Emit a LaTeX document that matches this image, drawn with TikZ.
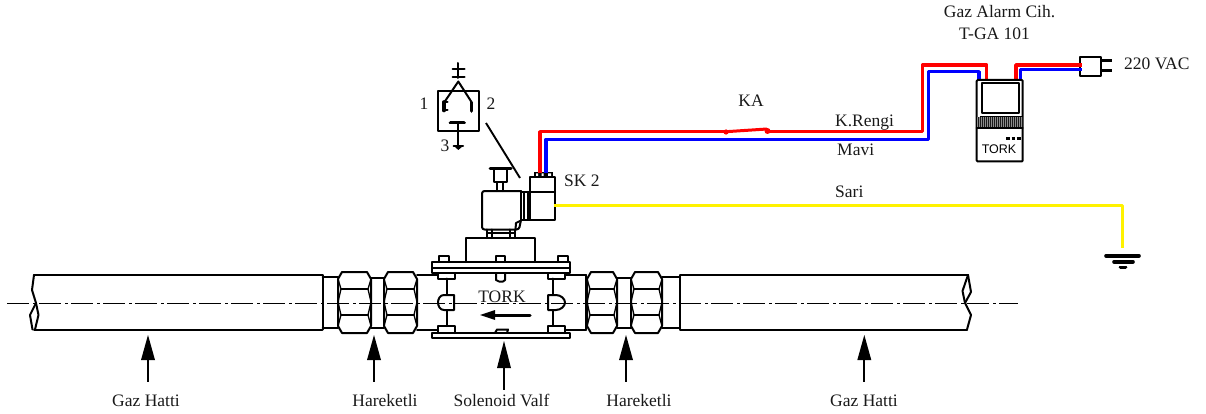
\documentclass[tikz,border=0pt]{standalone}
\usepackage{fontspec}
\setmainfont{Liberation Serif}
\newfontfamily\tacho{Liberation Sans}
\usetikzlibrary{calc}
\tikzset{
  ln/.style={draw=black,line width=2pt,line join=round,line cap=round},
  thin ln/.style={draw=black,line width=1.3pt,line join=round},
  thick ln/.style={draw=black,line width=3.6pt,line cap=round},
  center line/.style={draw=black,line width=1.8pt,dash pattern=on 22pt off 4pt on 2.5pt off 3.5pt},
  redw/.style={draw=red,line width=3.5pt,line join=round},
  bluew/.style={draw=blue,line width=3.5pt,line join=round},
  yelw/.style={draw=yellow,line width=3.2pt,line join=round},
  lab/.style={inner sep=0pt,anchor=base,font=\fontsize{17.5}{20}\selectfont,text=black!90},
  labl/.style={inner sep=0pt,anchor=base west,font=\fontsize{17.5}{20}\selectfont,text=black!90},
  stem/.style={draw=black,line width=1.9pt},
  head/.style={fill=black,draw=none}
}
\newcommand{\hexnut}[2]{%
  \draw[ln] ($(#1,272)+(4,0)$) -- ($(#2,272)+(-4,0)$) -- (#2,279) -- (#2,326) -- ($(#2,333)+(-4,0)$) -- ($(#1,333)+(4,0)$) -- (#1,326) -- (#1,279) -- cycle;
  \draw[ln] ($(#1,289)+(3,0)$) -- ($(#2,289)+(-3,0)$);
  \draw[ln] ($(#1,315)+(3,0)$) -- ($(#2,315)+(-3,0)$);
  \draw[thin ln] (#2,279) -- ($(#2,289)+(-3,0)$) -- (#2,302) -- ($(#2,315)+(-3,0)$) -- (#2,326);
  \draw[thin ln] (#1,279) -- ($(#1,289)+(3,0)$) -- (#1,302) -- ($(#1,315)+(3,0)$) -- (#1,326);
}
\newcommand{\pointarrow}[4]{% x, tip, base, foot
  \fill[head] (#1,#2) -- (#1+7,#3) -- (#1-7,#3) -- cycle;
  \draw[stem] (#1,#3) -- (#1,#4);
}
\begin{document}
\begin{tikzpicture}[x=1pt,y=-1pt]
\useasboundingbox (0,0) rectangle (1206,414);
% pipes
\draw[ln] (34,275) -- (322.5,275) (34,329.5) -- (322.5,329.5) (322.5,275) -- (322.5,329.5);
\draw[ln] (34,275) -- (32,290) -- (36,303) -- (30,315) -- (32.5,329.5);
\draw[ln] (36,303) -- (38.5,315) -- (35,329.5);
\draw[ln] (680,275) -- (968,275) (680,329.5) -- (967,329.5) (680,275) -- (680,329.5);
\draw[ln] (968,275) -- (971,292) -- (965,303) -- (971,315) -- (967,329.5);
\draw[ln] (968,275) -- (962.5,291) -- (965,303);
% couplings
\draw[ln] (322.5,277) -- (338,277) (322.5,327.5) -- (338,327.5);
\hexnut{338}{371}
\draw[ln] (371,278) -- (384,278) (371,327.5) -- (384,327.5);
\hexnut{384}{417}
\draw[ln] (417,275) -- (438,275) (417,329.5) -- (438,329.5);
\draw[ln] (565,275) -- (586,275) (565,329.5) -- (586,329.5);
\draw[ln] (586,275) -- (586,329.5);
\hexnut{587}{617}
\draw[ln] (617,278) -- (631,278) (617,327.5) -- (631,327.5);
\hexnut{631}{662}
\draw[ln] (662,277) -- (680,277) (662,327.5) -- (680,327.5);
% valve flanges and bolts
\draw[ln] (432,262) rectangle (570,273);
\draw[ln] (432,267.5) -- (570,267.5);
\draw[ln] (438.5,262) -- (438.5,255.5) -- (448.5,255.5) -- (448.5,262);
\draw[ln] (496,262) -- (496,255.5) -- (504.5,255.5) -- (504.5,262);
\draw[ln] (558,262) -- (558,255.5) -- (568,255.5) -- (568,262);
\draw[ln] (438,273) -- (438,278.5) -- (454.5,278.5) -- (454.5,273);
\draw[ln] (496,273) -- (496,280) -- (499,281.5) -- (503,281.5) -- (505,280) -- (505,273);
\draw[ln] (548,273) -- (548,278.5) -- (565,278.5) -- (565,273);
\draw[ln] (447,278.5) -- (447,295) (447,310) -- (447,326);
\draw[ln] (553,278.5) -- (553,295) (553,310) -- (553,326);
\draw[ln] (454,295) -- (444,295) .. controls (440,295) and (438,299) .. (438,302.5) .. controls (438,306) and (440,310) .. (444,310) -- (454,310) -- cycle;
\draw[ln] (548,295) -- (556,295) .. controls (561,295) and (565,299) .. (565,302.5) .. controls (565,306) and (561,310) .. (556,310) -- (548,310) -- cycle;
\draw[ln] (438,333) -- (438,326) -- (454.5,326) -- (454.5,333);
\draw[ln] (548,333) -- (548,326) -- (565,326) -- (565,333);
\draw[ln] (495,333) -- (497,329.5) -- (508,329.5) -- (507,333);
\draw[ln] (432,333) rectangle (570,338);
% solenoid
\draw[ln] (466,262) -- (466,238) -- (535,238) -- (535,262);
\draw[ln] (487,238) -- (487,229.5) (492,229.5) -- (492,238) (510,229.5) -- (510,238) (515,238) -- (515,229.5);
\draw[ln] (487,233) -- (515,233);
\draw[ln,rounded corners=2.5pt] (521,191) -- (482,191) -- (482,229.5) -- (519,229.5) -- (521,220);
\draw[ln] (521,191) -- (521,220);
\draw[ln] (515.5,229.5) -- (516,223) -- (520,221);
\draw[ln] (497,191) -- (497,182) (503,191) -- (503,182);
\draw[ln] (494,170) -- (494,182) -- (507,182) -- (507,170);
\draw[ln,line width=3pt] (490,168.5) -- (511,168.5);
\draw[ln] (521,192) -- (530,192) (521,219.5) -- (530,219.5);
\draw[ln] (523.5,192) -- (523.5,219.5) (527.7,192) -- (527.7,219.5);
\draw[ln] (530,177) rectangle (555,219.5);
\draw[ln] (530,191.5) -- (555,191.5);
\fill[black] (534,172) rectangle (553,177);
\fill[white] (536,173.5) rectangle (538,176) (541.5,173.5) rectangle (543.5,176) (548,173.5) rectangle (551,176);
% contact symbol
\draw[ln] (437.5,91) rectangle (479,131.5);
\draw[ln] (458.3,63) -- (458.3,78);
\draw[ln] (452.5,69) -- (464.5,69);
\draw[ln] (452.5,77) -- (464.5,77);
\draw[ln] (444.5,102) -- (458.3,81.5) -- (471.5,102);
\draw[thick ln] (444,102) -- (444,110.5);
\draw[ln] (444,102) -- (447.5,102) (444,110.5) -- (447.5,110.5);
\draw[thick ln] (471.5,102.5) -- (471.5,111);
\draw[thick ln] (450.5,122.7) -- (464,122.7);
\draw[ln] (458.3,123) -- (458.3,146);
\draw[ln] (453.5,146) -- (463,146);
\fill (454,146) -- (463,146) -- (458.3,150) -- cycle;
\draw[stem] (486,123) -- (520,178);
% wires
\coordinate (c1) at (540,173);
\coordinate (c2) at (546,173);
\draw[redw] (c1) -- (540,131.7) -- (726,131.7);
\draw[redw,line width=3pt] (726,131.7) -- (767,129);
\fill[red] (726,132) circle (2.6pt) (767.5,131) circle (3pt);
\draw[redw] (767,131.7) -- (922.5,131.7) -- (922.5,65) -- (986.7,65) -- (986.7,80);
\draw[bluew] (c2) -- (546,139.3) -- (928.5,139.3) -- (928.5,71.7) -- (979,71.7) -- (979,80);
\draw[redw] (1016,80) -- (1016,65) -- (1081,65);
\draw[bluew] (1020.5,80) -- (1020.5,69.5) -- (1081,69.5);
\draw[yelw] (553.5,205.5) -- (1122.7,205.5) -- (1122.7,248);
% ground
\draw[thick ln] (1106,255.7) -- (1139,255.7);
\draw[thick ln] (1114,261.7) -- (1133,261.7);
\draw[thick ln] (1120.5,267.3) -- (1125.5,267.3);
% plug
\draw[ln,fill=white] (1080,57.5) rectangle (1101,76);
\draw[redw] (1078,65) -- (1082,65);
\draw[bluew] (1078,69.5) -- (1082,69.5);
\draw[draw=black,line width=3.5pt] (1101,60.5) -- (1111.7,60.5) (1101,70.7) -- (1111.7,70.7);
% alarm device
\draw[ln,rounded corners=1pt] (976.7,80) rectangle (1022.7,161.5);
\draw[ln] (982.3,83) rectangle (1019.3,113.5);
\draw[thin ln] (979.5,116.5) -- (1022,116.5);
\fill[black!90] (976.7,117.5) rectangle (1022.7,128);
\foreach \i in {0,...,22}{\draw[white!55!black,line width=.3pt] (977.5+\i*2,117.5) -- (977.5+\i*2,128);}
\draw[ln] (976.7,128.5) -- (1022.7,128.5);
\draw[draw=black,line width=2.8pt] (1006,138.3) -- (1010,138.3) (1011.5,138.3) -- (1015,138.3) (1016.5,138.3) -- (1020.5,138.3);
% centre line
\draw[center line] (7,303.5) -- (1018,303.5);
% valve flow arrow
\draw[draw=black,line width=3pt,line cap=round] (530,315) -- (492,315);
\fill (480,315) -- (495,310) -- (495,320) -- cycle;
% pointer arrows
\pointarrow{148}{335}{360}{382}
\pointarrow{374}{335}{360}{382}
\pointarrow{504}{341}{368}{390}
\pointarrow{626}{335}{360}{382}
\pointarrow{864.3}{335}{360}{382}
% labels
\node[lab] (lgaz1) at (146,406) {Gaz Hatti};
\node[lab] (lhar1) at (385,406) {Hareketli};
\node[lab] (lsol) at (501.5,406) {Solenoid Valf};
\node[lab] (lhar2) at (639,406) {Hareketli};
\node[lab] (lgaz2) at (864,406) {Gaz Hatti};
\node[lab] (ltork) at (502,302) {TORK};
\node[lab] (l1) at (424,110) {1};
\node[lab] (l2) at (491,110) {2};
\node[lab] (l3) at (445,151.7) {3};
\node[labl] (lsk) at (564,186) {SK 2};
\node[lab] (lka) at (751,106.5) {KA};
\node[labl] (lrd) at (835,127) {K.Rengi};
\node[labl] (lmv) at (837,156) {Mavi};
\node[labl] (lsr) at (835,197.6) {Sari};
\node[lab] (lal) at (999.5,18) {Gaz Alarm Cih.};
\node[lab] (lga) at (994.5,40) {T-GA 101};
\node[labl] (lvac) at (1124,70) {220 VAC};
\node[inner sep=0pt,anchor=base,font=\tacho\fontsize{12.5}{14}\selectfont] (ldev) at (999,154) {TORK};
\end{tikzpicture}
\end{document}
